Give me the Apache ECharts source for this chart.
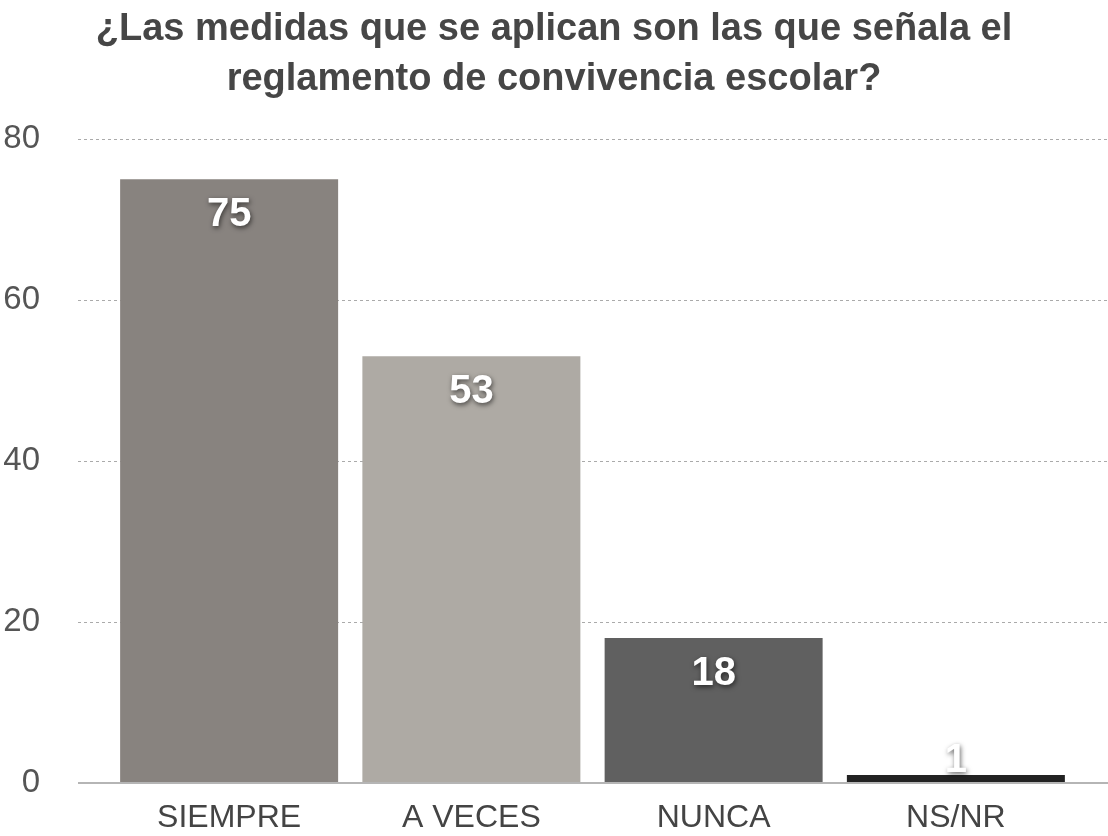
<!DOCTYPE html>
<html>
<head>
<meta charset="utf-8">
<script src="https://cdn.jsdelivr.net/npm/echarts@6/dist/echarts.min.js"></script>
<style>
  html, body { margin: 0; padding: 0; background: #fff; }
  #main { width: 1108px; height: 836px; }
</style>
</head>
<body>
<div id="main"></div>
<script>
// datos del gráfico
const categories = ['SIEMPRE', 'A VECES', 'NUNCA', 'NS/NR'];
const values = [75, 53, 18, 1];
const barColors = ['#88837f', '#aeaaa4', '#606060', '#222222'];
const yTicks = [0, 20, 40, 60, 80];

const chart = echarts.init(document.getElementById('main'));

const labelStyle = {
  show: true,
  position: 'insideTop',
  distance: 16,
  color: '#fff',
  fontSize: 40,
  fontWeight: 'bold',
  fontFamily: 'Liberation Sans',
  textShadowColor: 'rgba(0,0,0,0.6)',
  textShadowBlur: 5,
  textShadowOffsetX: 1,
  textShadowOffsetY: 2
};

const option = {
  animation: false,
  title: {
    text: '¿Las medidas que se aplican son las que señala el\nreglamento de convivencia escolar?',
    left: 'center',
    top: 0,
    textStyle: {
      fontFamily: 'Liberation Sans',
      fontSize: 38,
      fontWeight: 'bold',
      color: '#464646',
      lineHeight: 50
    }
  },
  grid: [
    // rejilla de fondo (eje y y líneas punteadas)
    { left: 78, right: 0, top: 139, bottom: 53 },
    // barras
    { left: 108, right: 31, top: 139, bottom: 53 }
  ],
  xAxis: [
    {
      gridIndex: 0,
      type: 'value',
      show: false
    },
    {
      gridIndex: 1,
      type: 'category',
      data: categories,
      axisLine: { show: false },
      axisTick: { show: false },
      axisLabel: {
        fontFamily: 'Liberation Sans',
        fontSize: 32,
        color: '#444',
        margin: 19
      }
    }
  ],
  yAxis: [
    {
      gridIndex: 0,
      type: 'value',
      min: yTicks[0],
      max: yTicks[yTicks.length - 1],
      interval: 20,
      axisLine: { show: false },
      axisTick: { show: false },
      axisLabel: {
        fontFamily: 'Liberation Sans',
        fontSize: 33,
        color: '#555',
        margin: 38
      },
      splitLine: {
        lineStyle: { color: '#aaa', type: [3, 3], width: 1 }
      }
    },
    {
      gridIndex: 1,
      type: 'value',
      min: yTicks[0],
      max: yTicks[yTicks.length - 1],
      interval: 20,
      show: false
    }
  ],
  series: [
    {
      type: 'bar',
      xAxisIndex: 1,
      yAxisIndex: 1,
      barWidth: 218,
      data: values.map((v, i) => ({
        value: v,
        itemStyle: { color: barColors[i] },
        label: v < 5 ? { position: 'top', distance: -6 } : {}
      })),
      label: labelStyle,
      z: 3
    },
    {
      // línea base
      type: 'line',
      xAxisIndex: 0,
      yAxisIndex: 0,
      data: [],
      markLine: {
        silent: true,
        symbol: 'none',
        label: { show: false },
        lineStyle: { color: '#b5b5b5', type: 'solid', width: 2 },
        data: [{ yAxis: 0 }]
      }
    }
  ]
};

chart.setOption(option);
window.onresize = () => chart.resize();
</script>
</body>
</html>
